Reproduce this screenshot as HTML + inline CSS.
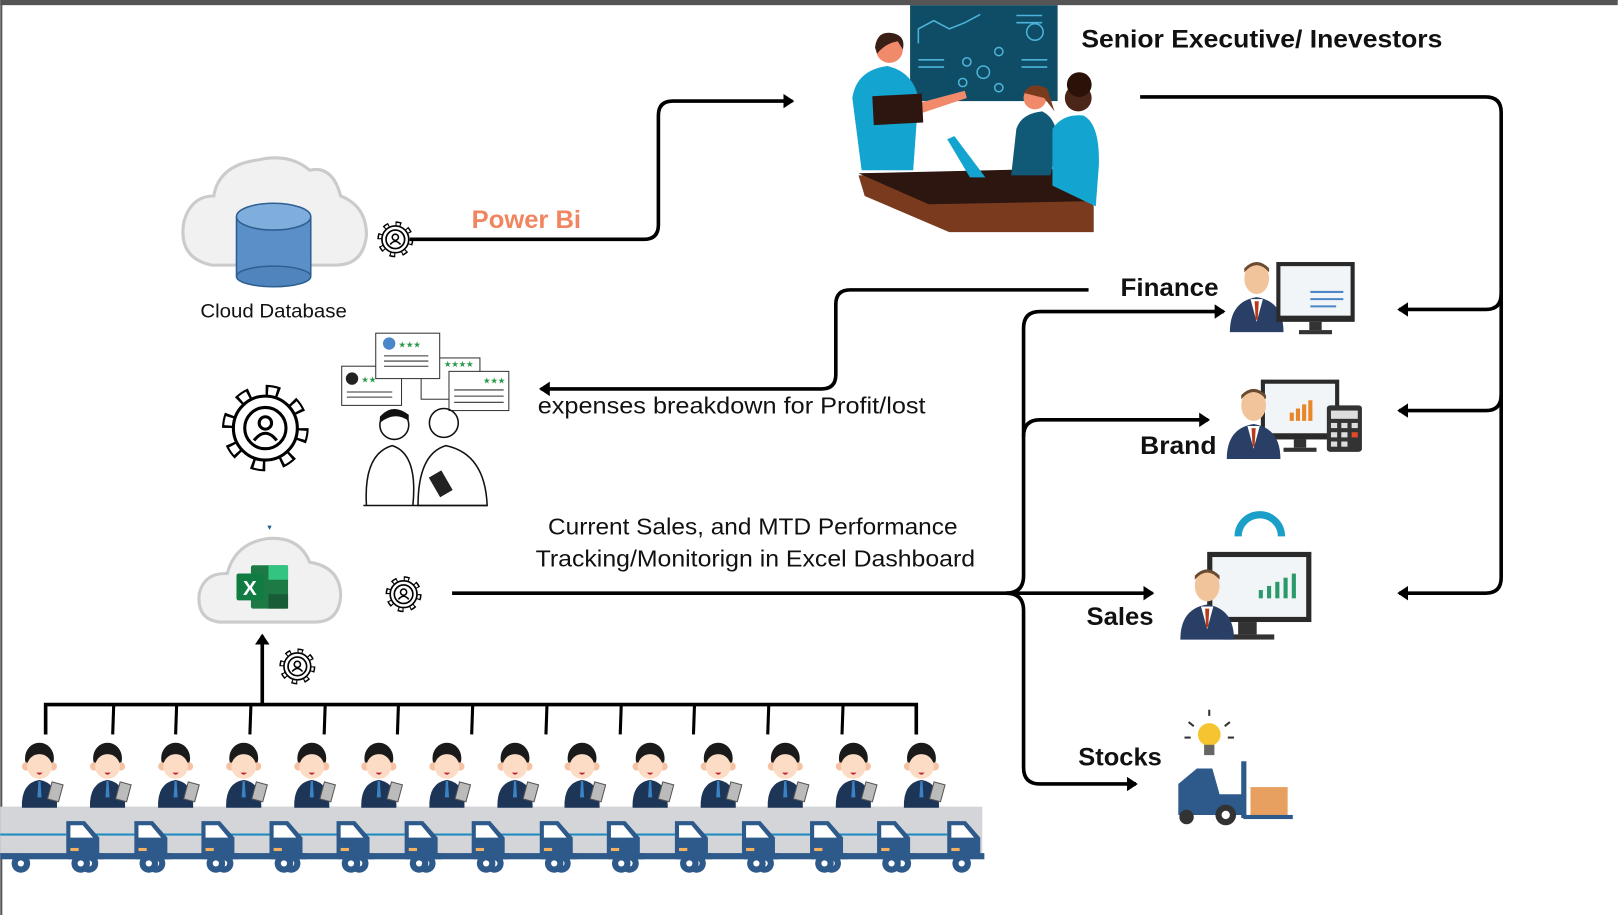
<!DOCTYPE html>
<html><head><meta charset="utf-8"><style>
html,body{margin:0;padding:0;background:#fff;overflow:hidden;width:1618px;height:915px;}
svg{display:block;}
text{font-family:"Liberation Sans",sans-serif;}
</style></head><body>
<svg width="1618" height="915" viewBox="0 0 1568 887" xmlns="http://www.w3.org/2000/svg">
<defs>
<marker id="ar" markerWidth="4" markerHeight="4" refX="2.5" refY="2" orient="auto" markerUnits="strokeWidth"><path d="M0,0 L3,2 L0,4 z" fill="#000"/></marker>
<g id="gear">
<circle r="14" fill="none" stroke="#000" stroke-width="7" stroke-dasharray="5 6"/>
<circle r="14" fill="none" stroke="#fff" stroke-width="4" stroke-dasharray="3 8" stroke-dashoffset="-1"/>
<circle r="13" fill="#fff" stroke="#000" stroke-width="1.6"/>
<circle r="9" fill="none" stroke="#000" stroke-width="1.6"/>
<circle r="3" cy="-2" fill="none" stroke="#000" stroke-width="1.5"/>
<path d="M-5,5 Q0,-1 5,5" fill="none" stroke="#000" stroke-width="1.5"/>
</g>
<g id="worker">
<ellipse cx="0" cy="0" rx="14" ry="15" fill="#1a1a1a"/>
<circle cx="-13" cy="8" r="4" fill="#f6c2a4"/><circle cx="13" cy="8" r="4" fill="#f6c2a4"/>
<ellipse cx="0" cy="8" rx="12" ry="12" fill="#fcdcc4"/>
<path d="M-3,14 Q0,18 3,14z" fill="#c0203a"/>
<path d="M-17,48 Q-18,24 0,21 Q18,24 17,48z" fill="#1d3557"/>
<path d="M-1,22 L1,22 L2,38 L-2,38z" fill="#3b82c4"/>
<rect x="10" y="24" width="11" height="17" fill="#bbb" stroke="#555" stroke-width="1" transform="rotate(15 15 32)"/>
</g>
<g id="truck">
<rect x="0" y="0" width="66" height="45" fill="#d4d5d8"/>
<path d="M64,14 L82,14 L96,30 L96,50 L64,50z" fill="#2d5a8a"/>
<path d="M68,18 L80,18 L90,30 L68,30z" fill="#fff"/>
<rect x="68" y="40" width="8" height="3" fill="#f5b060"/>
<rect x="0" y="45" width="100" height="6" fill="#2d5a8a"/>
<rect x="0" y="26" width="64" height="2" fill="#1d8ac0"/>
<circle cx="20" cy="55" r="9" fill="#2d5a8a"/><circle cx="20" cy="55" r="3" fill="#fff"/>
<circle cx="78" cy="55" r="9" fill="#2d5a8a"/><circle cx="78" cy="55" r="3" fill="#fff"/>
</g>
<g id="boss">
<path d="M-26,60 Q-26,30 0,26 Q26,30 26,60z" fill="#2a3f66"/>
<path d="M-6,28 L0,50 L6,28z" fill="#fff"/>
<path d="M-2,30 L2,30 L1,48 L-1,48z" fill="#b83a1a"/>
<ellipse cx="0" cy="8" rx="12" ry="15" fill="#f2c49b"/>
<path d="M-12,2 Q0,-12 12,2 L12,-2 Q0,-14 -12,-2z" fill="#6a4a30"/>
</g>
<g id="mon">
<rect x="0" y="0" width="76" height="58" fill="#2a2a2a"/>
<rect x="4" y="4" width="68" height="48" fill="#f2f5f8"/>
<rect x="32" y="58" width="12" height="8" fill="#333"/><rect x="22" y="66" width="32" height="4" fill="#333"/>
</g>
</defs>

<rect x="0" y="0" width="1568" height="887" fill="#fff"/>
<rect x="0" y="0" width="1568" height="5" fill="#555"/>
<rect x="0" y="0" width="2" height="887" fill="#555"/>

<!-- cloud database -->
<path d="M205,257 Q172,250 178,215 Q185,190 207,190 Q212,160 250,155 Q280,148 300,165 Q322,160 330,190 Q355,200 355,228 Q352,257 325,257z" fill="#f1f1f2" stroke="#c9cbcd" stroke-width="3"/>
<rect x="229" y="210" width="72" height="58" fill="#5b8fc8"/>
<ellipse cx="265" cy="268" rx="36" ry="10" fill="#4f84bd" stroke="#2e5f92" stroke-width="1.5"/>
<ellipse cx="265" cy="210" rx="36" ry="13" fill="#7faedc" stroke="#2e5f92" stroke-width="1.5"/>
<line x1="229" y1="210" x2="229" y2="268" stroke="#2e5f92" stroke-width="1.5"/><line x1="301" y1="210" x2="301" y2="268" stroke="#2e5f92" stroke-width="1.5"/>
<text x="194" y="308" font-size="19" textLength="142" lengthAdjust="spacingAndGlyphs" fill="#111">Cloud Database</text>
<use href="#gear" x="383" y="232"/>
<text x="457" y="221" font-size="24" font-weight="bold" fill="#f08560" textLength="106" lengthAdjust="spacingAndGlyphs">Power Bi</text>

<!-- connectors -->
<g fill="none" stroke="#000" stroke-width="3.5">
<path d="M397,232 L624,232 Q638,232 638,218 L638,112 Q638,98 652,98 L768,98" marker-end="url(#ar)"/>
<path d="M1105,94 L1440,94 Q1455,94 1455,109 L1455,560 Q1455,575 1440,575 L1356,575" marker-end="url(#ar)"/>
<path d="M1455,285 Q1455,300 1440,300 L1356,300" marker-end="url(#ar)"/>
<path d="M1455,383 Q1455,398 1440,398 L1356,398" marker-end="url(#ar)"/>
<path d="M1055,281 L824,281 Q810,281 810,295 L810,363 Q810,377 796,377 L524,377" marker-end="url(#ar)"/>
<path d="M438,575 L1117,575" marker-end="url(#ar)"/>
<path d="M975,575 Q992,575 992,558 L992,318 Q992,302 1008,302 L1186,302" marker-end="url(#ar)"/>
<path d="M992,423 Q992,407 1008,407 L1171,407" marker-end="url(#ar)"/>
<path d="M975,575 Q992,575 992,592 L992,744 Q992,760 1008,760 L1101,760" marker-end="url(#ar)"/>
<path d="M254,683 L254,616" marker-end="url(#ar)"/>
<path d="M44,712 L44,683 L888,683 L888,712"/>
</g>
<g stroke="#000" stroke-width="3">
<line x1="110" y1="683" x2="109" y2="712"/><line x1="171" y1="683" x2="170" y2="712"/><line x1="243" y1="683" x2="242" y2="712"/><line x1="315" y1="683" x2="314" y2="712"/><line x1="386" y1="683" x2="385" y2="712"/><line x1="458" y1="683" x2="457" y2="712"/><line x1="530" y1="683" x2="529" y2="712"/><line x1="602" y1="683" x2="601" y2="712"/><line x1="673" y1="683" x2="672" y2="712"/><line x1="745" y1="683" x2="744" y2="712"/><line x1="817" y1="683" x2="816" y2="712"/>
</g>

<!-- exec scene -->
<rect x="882" y="5" width="143" height="93" fill="#0f4c66"/>
<g stroke="#4cb3d9" stroke-width="1.5" fill="none"><path d="M890,42 L890,28 L905,20 L920,28 L935,22 L950,14"/><line x1="985" y1="15" x2="1010" y2="15"/><line x1="985" y1="22" x2="1010" y2="22"/><line x1="890" y1="58" x2="915" y2="58"/><line x1="890" y1="65" x2="915" y2="65"/><line x1="990" y1="58" x2="1015" y2="58"/><line x1="990" y1="65" x2="1015" y2="65"/><circle cx="1003" cy="31" r="8"/><circle cx="953" cy="70" r="6"/><circle cx="937" cy="60" r="4"/><circle cx="968" cy="50" r="4"/><circle cx="968" cy="85" r="4"/><circle cx="933" cy="80" r="4"/></g>
<path d="M832,170 L1045,165 L1060,200 L1060,225 L920,225 L838,190z" fill="#7a3a1e"/>
<path d="M832,168 L1045,163 L1058,195 L900,198z" fill="#2d1510"/>
<path d="M826,95 Q830,68 860,64 Q885,70 890,95 L885,165 L835,165z" fill="#13a5d0"/>
<circle cx="862" cy="48" r="13" fill="#f08a6a"/><path d="M848,46 Q850,30 864,32 Q878,34 875,48 L870,40 Q858,42 850,52z" fill="#3a1f16"/>
<path d="M890,100 L935,88 L937,95 L892,110z" fill="#f08a6a"/>
<rect x="846" y="92" width="48" height="28" fill="#2d1510" transform="rotate(-3 870 105)"/>
<path d="M985,125 Q990,110 1010,108 Q1025,115 1025,140 L1018,170 L980,170z" fill="#105a78"/>
<circle cx="1003" cy="95" r="11" fill="#f08a6a"/><path d="M992,90 Q1000,78 1015,86 L1022,108 L1012,95z" fill="#7a3a1e"/>
<path d="M1020,125 Q1030,110 1050,112 Q1066,120 1065,160 L1062,200 L1020,180z" fill="#13a5d0"/>
<circle cx="1045" cy="95" r="13" fill="#4a2518"/><circle cx="1046" cy="82" r="12" fill="#2a1208"/>
<path d="M918,135 L940,172 L955,172 L925,132z" fill="#13a5d0"/>
<text x="1048" y="46" font-size="24" font-weight="bold" fill="#111" textLength="350" lengthAdjust="spacingAndGlyphs">Senior Executive/ Inevestors</text>

<!-- finance -->
<text x="1086" y="287" font-size="24" font-weight="bold" fill="#111" textLength="95" lengthAdjust="spacingAndGlyphs">Finance</text>
<use href="#boss" x="1218" y="262"/>
<use href="#mon" x="1237" y="254"/>
<g stroke="#4a86c8" stroke-width="2"><line x1="1270" y1="283" x2="1302" y2="283"/><line x1="1270" y1="290" x2="1302" y2="290"/><line x1="1270" y1="297" x2="1295" y2="297"/></g>
<!-- brand -->
<text x="1105" y="440" font-size="24" font-weight="bold" fill="#111" textLength="74" lengthAdjust="spacingAndGlyphs">Brand</text>
<use href="#mon" x="1222" y="368"/>
<g fill="#e8862a"><rect x="1250" y="400" width="4" height="8"/><rect x="1256" y="396" width="4" height="12"/><rect x="1262" y="392" width="4" height="16"/><rect x="1268" y="388" width="4" height="20"/></g>
<use href="#boss" x="1215" y="385"/>
<rect x="1286" y="393" width="34" height="45" fill="#333" rx="3"/>
<g fill="#ddd"><rect x="1290" y="398" width="26" height="8"/><rect x="1290" y="410" width="6" height="5"/><rect x="1300" y="410" width="6" height="5"/><rect x="1310" y="410" width="6" height="5"/><rect x="1290" y="419" width="6" height="5"/><rect x="1300" y="419" width="6" height="5"/><rect x="1310" y="419" width="6" height="5" fill="#e04a2a"/><rect x="1290" y="428" width="6" height="5"/><rect x="1300" y="428" width="6" height="5"/></g>
<!-- sales -->
<text x="1053" y="606" font-size="24" font-weight="bold" fill="#111" textLength="65" lengthAdjust="spacingAndGlyphs">Sales</text>
<path d="M1200,520 A20,20 0 0 1 1242,520" fill="none" stroke="#1aa0c8" stroke-width="7"/>
<rect x="1170" y="535" width="101" height="68" fill="#2a2a2a"/><rect x="1175" y="540" width="91" height="58" fill="#f2f5f8"/>
<rect x="1200" y="603" width="18" height="12" fill="#333"/><rect x="1185" y="615" width="50" height="5" fill="#333"/>
<g fill="#2a9a6a"><rect x="1220" y="572" width="4" height="8"/><rect x="1228" y="568" width="4" height="12"/><rect x="1236" y="564" width="4" height="16"/><rect x="1244" y="560" width="4" height="20"/><rect x="1252" y="556" width="4" height="24"/></g>
<use href="#boss" x="1170" y="560"/>
<!-- stocks -->
<text x="1045" y="742" font-size="24" font-weight="bold" fill="#111" textLength="81" lengthAdjust="spacingAndGlyphs">Stocks</text>
<circle cx="1172" cy="712" r="11" fill="#f5c430"/><rect x="1167" y="722" width="10" height="10" fill="#666"/>
<g stroke="#333" stroke-width="2"><line x1="1172" y1="688" x2="1172" y2="694"/><line x1="1152" y1="700" x2="1157" y2="704"/><line x1="1192" y1="700" x2="1187" y2="704"/><line x1="1148" y1="715" x2="1154" y2="715"/><line x1="1190" y1="715" x2="1196" y2="715"/></g>
<path d="M1142,790 L1142,760 L1160,745 L1175,745 L1182,770 L1205,770 L1205,790z" fill="#2d5a8a"/>
<rect x="1203" y="738" width="5" height="55" fill="#2d5a8a"/>
<rect x="1212" y="763" width="36" height="28" fill="#e8a060"/>
<rect x="1205" y="790" width="48" height="4" fill="#2d5a8a"/>
<circle cx="1150" cy="792" r="7" fill="#333"/><circle cx="1188" cy="790" r="10" fill="#333"/><circle cx="1188" cy="790" r="4" fill="#fff"/>

<!-- big outline gear -->
<g transform="translate(257 415)">
<circle r="36" fill="none" stroke="#000" stroke-width="12" stroke-dasharray="13 15.27"/>
<circle r="36" fill="none" stroke="#fff" stroke-width="8" stroke-dasharray="8 20.27" stroke-dashoffset="-2.5"/>
<circle r="31" fill="#fff" stroke="#000" stroke-width="3"/>
<circle r="20" fill="none" stroke="#000" stroke-width="3"/>
<circle r="6" cy="-5" fill="none" stroke="#000" stroke-width="3"/>
<path d="M-11,12 Q0,-2 11,12" fill="none" stroke="#000" stroke-width="3"/>
</g>
<!-- middle people & cards -->
<g stroke="#333" stroke-width="1" fill="#fff">
<rect x="331" y="355" width="58" height="38"/><rect x="408" y="347" width="57" height="40"/><rect x="435" y="360" width="58" height="38"/><rect x="364" y="323" width="62" height="44"/>
</g>
<circle cx="377" cy="333" r="6" fill="#4a86c8"/><circle cx="341" cy="367" r="6" fill="#222"/>
<g fill="#2a9a4a" font-size="8"><text x="386" y="337">★★★</text><text x="430" y="356">★★★★</text><text x="350" y="371">★★</text><text x="468" y="372">★★★</text></g>
<g stroke="#333" stroke-width="1"><line x1="372" y1="345" x2="415" y2="345"/><line x1="372" y1="350" x2="415" y2="350"/><line x1="372" y1="355" x2="415" y2="355"/><line x1="336" y1="380" x2="380" y2="380"/><line x1="336" y1="385" x2="380" y2="385"/><line x1="440" y1="378" x2="488" y2="378"/><line x1="440" y1="384" x2="488" y2="384"/><line x1="440" y1="390" x2="488" y2="390"/></g>
<g fill="none" stroke="#111" stroke-width="1.5">
<circle cx="382" cy="412" r="14"/><path d="M355,490 Q352,440 380,432 Q405,440 400,490"/>
<circle cx="430" cy="410" r="14"/><path d="M405,490 Q405,440 432,432 Q470,440 472,490z"/>
<line x1="352" y1="490" x2="472" y2="490"/>
</g>
<path d="M368,404 Q380,390 396,402 L396,408 Q382,398 368,410z" fill="#111"/>
<rect x="420" y="458" width="14" height="22" fill="#222" transform="rotate(-30 427 469)"/>
<text x="521" y="401" font-size="22" fill="#111" textLength="376" lengthAdjust="spacingAndGlyphs">expenses breakdown for Profit/lost</text>

<!-- excel cloud -->
<text x="261" y="514" font-size="8" text-anchor="middle" fill="#1f5f8a">▾</text>
<path d="M212,603 Q190,600 193,575 Q198,555 220,556 Q228,526 260,522 Q290,520 300,545 Q330,550 330,578 Q328,603 305,603z" fill="#f1f1f2" stroke="#c9cbcd" stroke-width="3"/>
<rect x="243" y="548" width="36" height="42" fill="#1d7a44" rx="2"/>
<rect x="260" y="548" width="19" height="14" fill="#33c481"/><rect x="260" y="576" width="19" height="14" fill="#185c37"/>
<rect x="229" y="556" width="26" height="26" fill="#107c41" rx="2"/>
<text x="242" y="577" font-size="20" font-weight="bold" fill="#fff" text-anchor="middle">X</text>
<use href="#gear" x="391" y="576"/>
<use href="#gear" x="288" y="646"/>
<text x="531" y="518" font-size="22" fill="#111" textLength="397" lengthAdjust="spacingAndGlyphs">Current Sales, and MTD Performance</text>
<text x="519" y="549" font-size="22" fill="#111" textLength="426" lengthAdjust="spacingAndGlyphs">Tracking/Monitorign in Excel Dashboard</text>

<!-- trucks & workers -->
<rect x="2" y="782" width="950" height="46" fill="#d4d5d8"/>
<use href="#truck" x="854" y="782"/><use href="#truck" x="786" y="782"/><use href="#truck" x="721" y="782"/><use href="#truck" x="655" y="782"/><use href="#truck" x="590" y="782"/><use href="#truck" x="524" y="782"/><use href="#truck" x="459" y="782"/><use href="#truck" x="393" y="782"/><use href="#truck" x="328" y="782"/><use href="#truck" x="262" y="782"/><use href="#truck" x="197" y="782"/><use href="#truck" x="131" y="782"/><use href="#truck" x="66" y="782"/><use href="#truck" x="0" y="782"/>
<use href="#worker" x="38" y="735"/><use href="#worker" x="104" y="735"/><use href="#worker" x="170" y="735"/><use href="#worker" x="236" y="735"/><use href="#worker" x="302" y="735"/><use href="#worker" x="367" y="735"/><use href="#worker" x="433" y="735"/><use href="#worker" x="499" y="735"/><use href="#worker" x="564" y="735"/><use href="#worker" x="630" y="735"/><use href="#worker" x="696" y="735"/><use href="#worker" x="761" y="735"/><use href="#worker" x="827" y="735"/><use href="#worker" x="893" y="735"/>
</svg>
</body></html>
